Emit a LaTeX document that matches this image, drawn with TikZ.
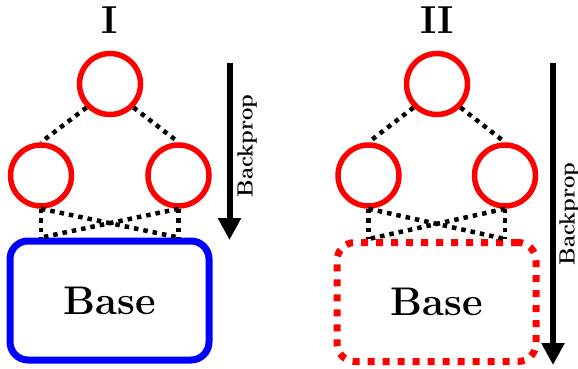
\documentclass[tikz,border=0pt]{standalone}
\usepackage{fontspec}
\usetikzlibrary{arrows.meta}
\definecolor{cred}{RGB}{255,0,0}
\definecolor{cblue}{RGB}{0,0,255}
\tikzset{
  neuron/.style={draw=cred, line width=5.5pt, circle, minimum size=61pt, inner sep=0pt},
  conn/.style={draw=black, line width=4.5pt, dash pattern=on 4.5pt off 5pt},
  basebox/.style={rounded corners=18pt, minimum width=199pt, minimum height=119pt, inner sep=0pt,
     font=\fontsize{40}{44}\selectfont\bfseries},
  solidbase/.style={basebox, draw=cblue, line width=7pt},
  dotbase/.style={basebox, draw=cred, line width=7pt, dash pattern=on 7pt off 8pt},
  title/.style={font=\fontsize{39}{44}\selectfont\bfseries, inner sep=0pt},
  bparrow/.style={line width=6pt, -{Triangle[width=22pt,length=22pt]}},
  bplabel/.style={rotate=90, inner sep=0pt, font=\fontsize{22}{26}\selectfont\bfseries}
}
\begin{document}
\begin{tikzpicture}[x=1pt,y=-1pt]
\useasboundingbox (0,0) rectangle (578,369);
% Panel I
\node[title] (t1) at (110,20) {I};
\node[neuron] (a1) at (110,84) {};
\node[neuron] (b1) at (41,175.5) {};
\node[neuron] (c1) at (178.5,175.5) {};
\node[solidbase] (base1) at (109.5,300.5) {Base};
\coordinate (p1) at (b1.south |- base1.north);
\coordinate (q1) at (c1.south |- base1.north);
\draw[conn] (a1.-135) -- (b1.north);
\draw[conn] (a1.-45) -- (c1.north);
\draw[conn] (b1.south) -- (p1);
\draw[conn] (b1.south) -- (q1);
\draw[conn] (c1.south) -- (q1);
\draw[conn] (c1.south) -- (p1);
\coordinate (s1) at (229.5,63);
\coordinate (e1) at (229.5,240);
\draw[bparrow] (s1) -- (e1);
\node[bplabel] (l1) at (247,146) {Backprop};
% Panel II
\node[title] (t2) at (437,20) {II};
\node[neuron] (a2) at (437,84) {};
\node[neuron] (b2) at (368.5,175.5) {};
\node[neuron] (c2) at (505,175.5) {};
\node[dotbase] (base2) at (436.5,302) {Base};
\coordinate (p2) at (b2.south |- base2.north);
\coordinate (q2) at (c2.south |- base2.north);
\draw[conn] (a2.-135) -- (b2.north);
\draw[conn] (a2.-45) -- (c2.north);
\draw[conn] (b2.south) -- (p2);
\draw[conn] (b2.south) -- (q2);
\draw[conn] (c2.south) -- (q2);
\draw[conn] (c2.south) -- (p2);
\coordinate (s2) at (553,63);
\coordinate (e2) at (553,365);
\draw[bparrow] (s2) -- (e2);
\node[bplabel] (l2) at (569,214) {Backprop};
\end{tikzpicture}
\end{document}
